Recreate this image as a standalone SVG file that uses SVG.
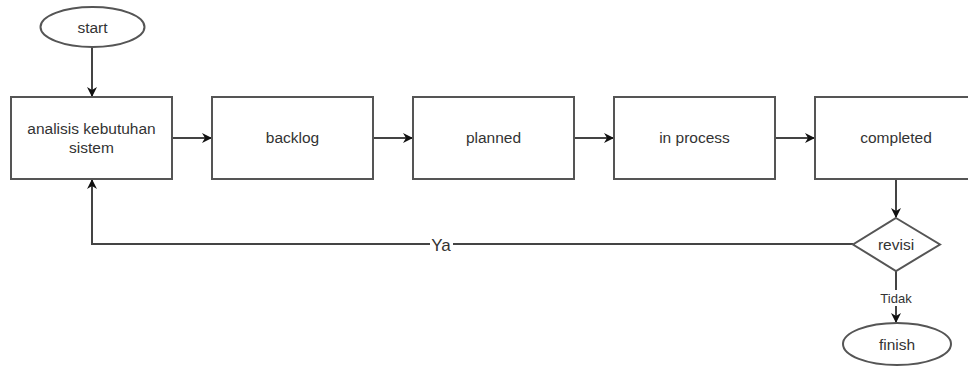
<svg xmlns="http://www.w3.org/2000/svg" width="968" height="366" viewBox="0 0 968 366">
<defs>
<marker id="arr" viewBox="0 0 10 10" refX="9" refY="5" markerWidth="10" markerHeight="10" markerUnits="userSpaceOnUse" orient="auto">
<path d="M0,0 L10,5 L0,10 L3,5 Z" fill="#111"/>
</marker>
<style>
.box{fill:#fff;stroke:#555;stroke-width:2}
.lbl{font-family:"Liberation Sans",Arial,sans-serif;font-size:15.5px;fill:#333;text-anchor:middle;dominant-baseline:central}
.edge{fill:none;stroke:#444;stroke-width:2}
</style>
</defs>
<rect width="968" height="366" fill="#fff"/>
<g id="connectors">
<path class="edge" d="M92,47 L92,96" marker-end="url(#arr)"/>
<path class="edge" d="M172,138 L211,138" marker-end="url(#arr)"/>
<path class="edge" d="M373,138 L412,138" marker-end="url(#arr)"/>
<path class="edge" d="M574,138 L613,138" marker-end="url(#arr)"/>
<path class="edge" d="M775,138 L814,138" marker-end="url(#arr)"/>
<path class="edge" d="M896,179 L896,217" marker-end="url(#arr)"/>
<path class="edge" d="M853,244 L92,244 L92,180" marker-end="url(#arr)"/>
<path class="edge" d="M896,271 L896,322" marker-end="url(#arr)"/>
<rect x="430" y="234" width="23" height="20" fill="#fff"/>
<text x="441" y="245" class="lbl" style="font-size:17px">Ya</text>
<rect x="877" y="290" width="38" height="16" fill="#fff"/>
<text x="896" y="298" class="lbl" style="font-size:13px">Tidak</text>
</g>
<g id="start">
<ellipse class="box" cx="92.5" cy="27" rx="52" ry="20"/>
<text x="92.5" y="27" class="lbl">start</text>
</g>
<g id="analisis">
<rect class="box" x="11" y="97" width="161" height="82"/>
<text x="91.5" y="128" class="lbl">analisis kebutuhan</text>
<text x="91.5" y="147" class="lbl">sistem</text>
</g>
<g id="backlog">
<rect class="box" x="212" y="97" width="161" height="82"/>
<text x="292.5" y="137" class="lbl">backlog</text>
</g>
<g id="planned">
<rect class="box" x="413" y="97" width="161" height="82"/>
<text x="493.5" y="137" class="lbl">planned</text>
</g>
<g id="inprocess">
<rect class="box" x="614" y="97" width="161" height="82"/>
<text x="694.5" y="137" class="lbl">in process</text>
</g>
<g id="completed">
<rect class="box" x="815" y="97" width="161" height="82"/>
<text x="896" y="137" class="lbl">completed</text>
</g>
<g id="revisi">
<polygon class="box" points="896,218 940,244.5 896,271 853,244.5"/>
<text x="896" y="244" class="lbl">revisi</text>
</g>
<g id="finish">
<ellipse class="box" cx="897" cy="344" rx="54" ry="21"/>
<text x="897" y="344" class="lbl">finish</text>
</g>
</svg>
